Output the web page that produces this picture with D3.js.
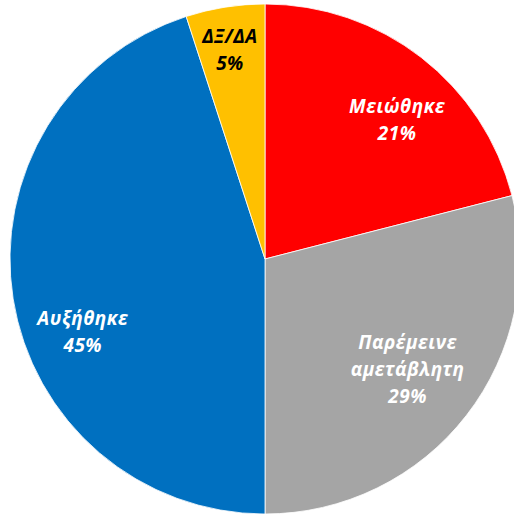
<!DOCTYPE html>
<html>
<head>
<meta charset="utf-8">
<script src="https://cdn.jsdelivr.net/npm/d3@7"></script>
<style>
  html, body { margin: 0; padding: 0; background: #fff; }
  svg { display: block; }
</style>
</head>
<body>
<svg id="chart" width="514" height="516"></svg>
<script>
// Survey answers and their shares (%)
const categories = ["Μειώθηκε", "Παρέμεινε αμετάβλητη", "Αυξήθηκε", "ΔΞ/ΔΑ"];
const values = [21, 29, 45, 5];
const sliceColors = ["#FF0000", "#A5A5A5", "#0070C0", "#FFC000"];
const textColors = ["#FFFFFF", "#FFFFFF", "#FFFFFF", "#000000"];
// Label text split into lines
const labelLines = [["Μειώθηκε"], ["Παρέμεινε", "αμετάβλητη"], ["Αυξήθηκε"], ["ΔΞ/ΔΑ"]];
// Label placement: angle nudge (deg) and distance from centre
const labelAngleShift = [5.7, -0.2, -12.6, -0.5];
const labelRadius = [192, 180, 196, 212];

const svg = d3.select("#chart");
const cx = 265, cy = 259, R = 255;
const g = svg.append("g").attr("transform", `translate(${cx},${cy})`);

const data = categories.map((c, i) => ({ name: c, value: values[i], i }));

const pie = d3.pie().value(d => d.value).sort(null);
const arc = d3.arc().innerRadius(0).outerRadius(R);
const arcs = pie(data);

g.selectAll("path.slice")
  .data(arcs)
  .join("path")
  .attr("class", "slice")
  .attr("d", arc)
  .attr("fill", d => sliceColors[d.data.i])
  .attr("stroke", "#fff")
  .attr("stroke-width", 0.8);

const lineH = 27;
arcs.forEach(d => {
  const i = d.data.i;
  const mid = (d.startAngle + d.endAngle) / 2 + labelAngleShift[i] * Math.PI / 180;
  const x = Math.sin(mid) * labelRadius[i];
  const y = -Math.cos(mid) * labelRadius[i];
  const lines = labelLines[i].concat([d.data.value + "%"]);
  const t = g.append("text")
    .attr("text-anchor", "middle")
    .attr("font-family", "'Open Sans', 'Noto Sans', sans-serif")
    .attr("font-weight", "bold")
    .attr("font-style", "italic")
    .attr("font-size", 19)
    .attr("letter-spacing", 0.5)
    .attr("fill", textColors[i]);
  const y0 = y - (lines.length - 1) * lineH / 2 + 7;
  lines.forEach((s, k) => {
    t.append("tspan").attr("x", x).attr("y", y0 + k * lineH).text(s);
  });
});
</script>
</body>
</html>
